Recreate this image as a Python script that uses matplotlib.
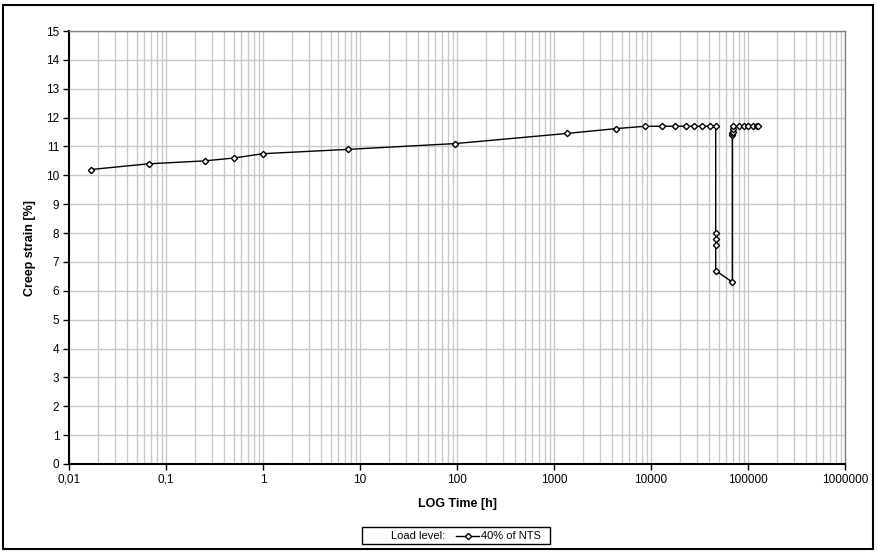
import numpy as np
import matplotlib
matplotlib.use("Agg")
import matplotlib.pyplot as plt
from matplotlib.ticker import FixedLocator, FixedFormatter, LogLocator, NullFormatter
from matplotlib.patches import Rectangle
from matplotlib.lines import Line2D

plt.rcParams['font.family'] = ['Liberation Sans', 'DejaVu Sans']

# time [h] and creep strain [%]
time_h = [0.0167, 0.0667, 0.25, 0.5, 1.0, 7.6, 96, 1350, 4400, 8700,
          12970, 17650, 23100, 27560, 33340, 40300, 46450,
          46450, 46450, 46450, 46450,
          68900, 68900, 69100, 69300, 69600, 70000,
          80700, 90300, 100700, 111700, 122800, 127600]
strain = [10.2, 10.4, 10.5, 10.6, 10.75, 10.9, 11.1, 11.45, 11.62, 11.7,
          11.7, 11.7, 11.7, 11.7, 11.7, 11.7, 11.7,
          8.0, 7.8, 7.6, 6.7,
          6.3, 11.4, 11.45, 11.5, 11.6, 11.7,
          11.7, 11.7, 11.7, 11.7, 11.7, 11.7]

xticks = [0.01, 0.1, 1, 10, 100, 1000, 10000, 100000, 1000000]
xtick_labels = ['0,01', '0,1', '1', '10', '100', '1000', '10000', '100000', '1000000']
yticks = list(range(0, 16))

fig = plt.figure(figsize=(8.77, 5.53), dpi=100)
ax = fig.add_axes([69 / 877, 1 - 464 / 553, (845 - 69) / 877, (464 - 31) / 553])

ax.plot(time_h, strain, color='black', linewidth=1.0, marker='D', markersize=3.2,
        markerfacecolor='white', markeredgecolor='black', markeredgewidth=1.0, zorder=3)

ax.set_xscale('log')
ax.set_xlim(0.01, 1000000)
ax.set_ylim(0, 15)
ax.xaxis.set_major_locator(FixedLocator(xticks))
ax.xaxis.set_major_formatter(FixedFormatter(xtick_labels))
ax.xaxis.set_minor_locator(LogLocator(base=10, subs=np.arange(2, 10)))
ax.xaxis.set_minor_formatter(NullFormatter())
ax.set_yticks(yticks)

ax.grid(True, which='both', axis='x', color='#c8c8c8', linewidth=1.0)
ax.grid(True, which='major', axis='y', color='#c8c8c8', linewidth=1.0)
ax.set_axisbelow(True)

ax.tick_params(axis='both', which='major', direction='out', length=4, width=1,
               labelsize=8.5, color='black', pad=3)
ax.tick_params(axis='x', which='minor', length=0)

for side in ['left', 'bottom']:
    ax.spines[side].set_color('black')
    ax.spines[side].set_linewidth(1.5)
for side in ['top', 'right']:
    ax.spines[side].set_color('#808080')
    ax.spines[side].set_linewidth(1.0)

ax.set_xlabel('LOG Time [h]', fontsize=9, fontweight='bold', labelpad=9)
ax.set_ylabel('Creep strain [%]', fontsize=9, fontweight='bold', labelpad=7)

# legend box drawn by hand so "Load level:" sits left of the sample
W, H = 877, 553
fig.patches.append(Rectangle((362 / W, 1 - 544 / H), (550 - 362) / W, (544 - 527) / H,
                             transform=fig.transFigure, facecolor='white',
                             edgecolor='black', linewidth=1.0))
fig.text(391 / W, 1 - 536 / H, 'Load level:', fontsize=8, va='center', ha='left')
fig.lines.append(Line2D([456 / W, 479 / W], [1 - 536 / H, 1 - 536 / H],
                        transform=fig.transFigure, color='black', linewidth=1.0))
fig.lines.append(Line2D([468 / W], [1 - 536 / H], transform=fig.transFigure,
                        marker='D', markersize=3.2, markerfacecolor='white',
                        markeredgecolor='black', markeredgewidth=1.0, linestyle='none'))
fig.text(481 / W, 1 - 536 / H, '40% of NTS', fontsize=8, va='center', ha='left')

# outer chart border
fig.patches.append(Rectangle((3 / W, 1 - 549 / H), (873 - 3) / W, (549 - 5) / H,
                             transform=fig.transFigure, facecolor='none',
                             edgecolor='black', linewidth=1.5))

fig.savefig('out.png', dpi=100)
